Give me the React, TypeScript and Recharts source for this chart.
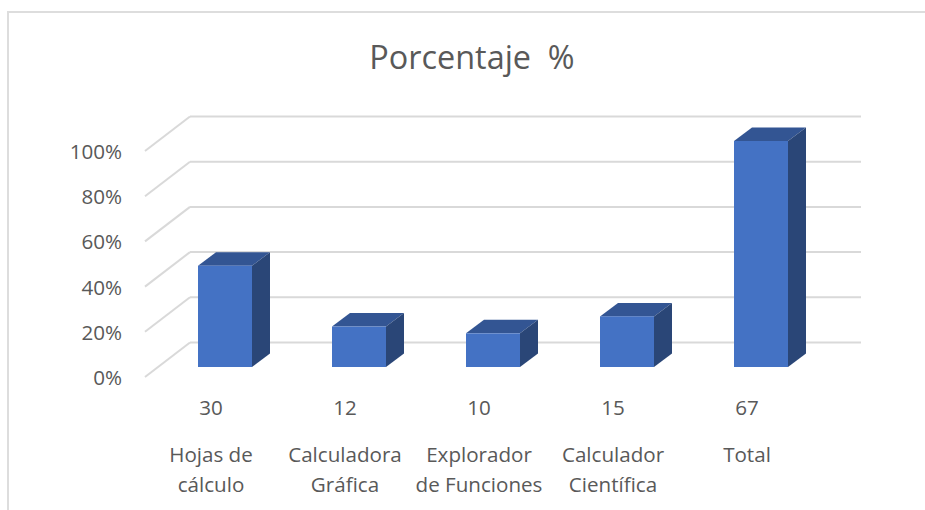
import React from "react";
import { BarChart, Bar, XAxis, YAxis, CartesianGrid } from "recharts";

const categoryLines = [
  ["Hojas de", "cálculo"],
  ["Calculadora", "Gráfica"],
  ["Explorador", "de Funciones"],
  ["Calculador", "Científica"],
  ["Total"],
];
const counts = [30, 12, 10, 15, 67];
const percents = [0.448, 0.179, 0.149, 0.224, 1];
const yTicks = [0, 0.2, 0.4, 0.6, 0.8, 1];
const rows = percents.map((p, i) => ({ idx: i, percent: p }));

const FONT = "'Open Sans', sans-serif";
const TEXT = "#595959";
const GRID = "#D9D9D9";
const DX = 18;
const DY = 13.5;

function Bar3D(props: any) {
  const { x, y, width, height } = props;
  return (
    <g>
      <polygon
        points={`${x},${y} ${x + DX},${y - DY} ${x + width + DX},${y - DY} ${x + width},${y}`}
        fill="#335593"
      />
      <polygon
        points={`${x + width},${y} ${x + width + DX},${y - DY} ${x + width + DX},${y + height - DY} ${x + width},${y + height}`}
        fill="#2A4677"
      />
      <rect x={x} y={y} width={width} height={height} fill="#4472C4" />
    </g>
  );
}

function XTick(props: any) {
  const { x, payload } = props;
  const i = payload.value as number;
  const lines = categoryLines[i];
  return (
    <g fontFamily={FONT} fontSize={20.6} fill={TEXT} textAnchor="middle">
      <text x={x - 14} y={415}>{counts[i]}</text>
      {lines.map((l, k) => (
        <text key={k} x={x - 14} y={462 + k * 30}>{l}</text>
      ))}
    </g>
  );
}

function YTick(props: any) {
  const { y, payload } = props;
  return (
    <text x={122} y={y + 18} textAnchor="end" fontFamily={FONT} fontSize={20.6} fill={TEXT}>
      {`${Math.round(payload.value * 100)}%`}
    </text>
  );
}

function GridLine(props: any) {
  const { x1, x2, y1 } = props;
  const backY = y1 - 24.5;
  return (
    <g key={`g-${y1}`} stroke={GRID} strokeWidth={2} fill="none">
      <line x1={x1 - 13} y1={y1 + 10} x2={x1 + 32} y2={backY} />
      <line x1={x1 + 32} y1={backY} x2={x2 + 33} y2={backY} />
    </g>
  );
}

export default function App() {
  return (
    <div style={{ position: "absolute", left: 0, top: 0, width: 925, height: 510, overflow: "hidden", background: "#fff" }}>
      <div style={{ position: "absolute", left: 7, top: 11, width: 918, height: 499, borderLeft: "2px solid #DDDDDD", borderTop: "2px solid #DDDDDD", boxSizing: "border-box" }} />
      <div style={{ position: "absolute", left: 272, width: 400, top: 34, textAlign: "center", fontFamily: FONT, fontSize: 32.4, color: TEXT, whiteSpace: "pre" }}>
        {"Porcentaje  %"}
      </div>
      <div style={{ position: "absolute", left: 0, top: 0 }}>
        <BarChart
          width={925}
          height={510}
          data={rows}
          margin={{ top: 141, right: 97, bottom: 133, left: 148 }}
          barSize={54}
        >
          <CartesianGrid vertical={false} horizontal={GridLine as any} />
          <XAxis
            dataKey="idx"
            type="category"
            axisLine={false}
            tickLine={false}
            tick={XTick as any}
            height={10}
            interval={0}
          />
          <YAxis
            type="number"
            domain={[0, 1]}
            ticks={yTicks}
            axisLine={false}
            tickLine={false}
            tick={YTick as any}
            width={10}
          />
          <Bar dataKey="percent" isAnimationActive={false} shape={Bar3D as any} />
        </BarChart>
      </div>
    </div>
  );
}
